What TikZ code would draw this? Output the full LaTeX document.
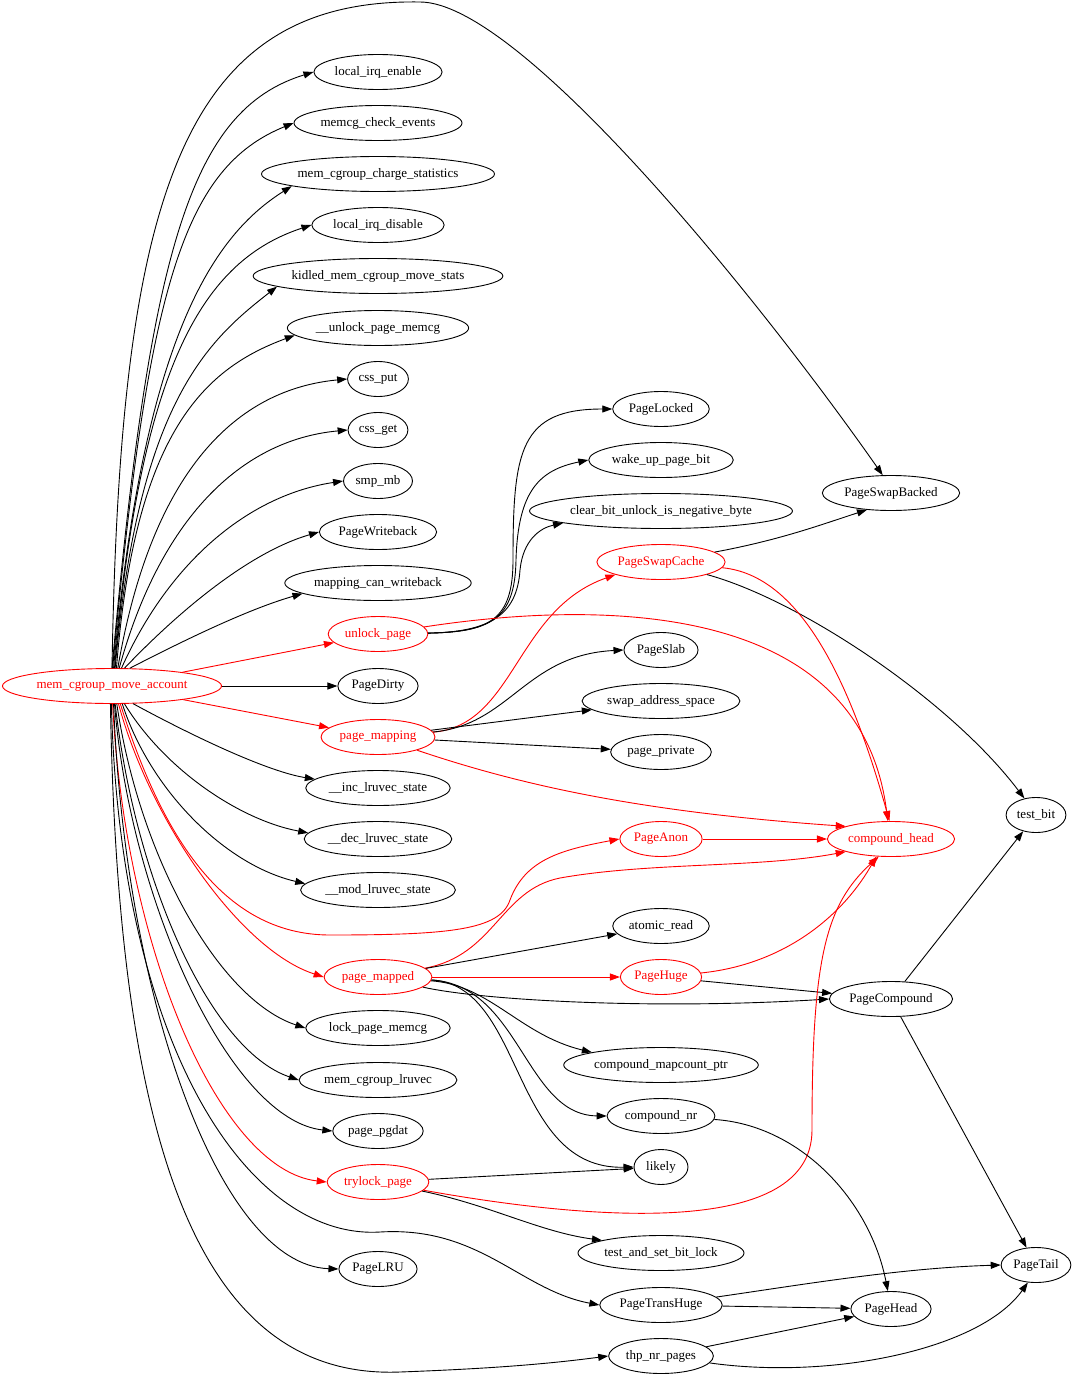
\documentclass[tikz,border=0pt]{standalone}
\usepackage{fontspec}
\setmainfont{Liberation Serif}
\usetikzlibrary{arrows.meta,shapes.geometric}

\begin{document}
\begin{tikzpicture}[x=1pt,y=1pt,>={Triangle[length=10pt,width=7pt]},
	fn/.style={draw,ellipse,line width=0.9pt,inner xsep=2pt,inner ysep=1pt,minimum height=35pt,
		minimum width=54pt,font=\fontsize{13}{15}\selectfont},
	hot/.style={fn,red},
	call/.style={->,line width=0.9pt},
	hotcall/.style={call,red}]

	% columns
	\def\ca{378}
	\def\cb{661}
	\def\cc{891}
	\def\cd{1036}

	\useasboundingbox (0,0) rectangle (1080,-1378);

	% root
	\node[hot] (mcma) at (112,-686) {mem\_cgroup\_move\_account};

	% first column
	\node[fn] (lie) at (\ca,-72) {local\_irq\_enable};
	\node[fn] (mce) at (\ca,-123) {memcg\_check\_events};
	\node[fn] (mcs) at (\ca,-174) {mem\_cgroup\_charge\_statistics};
	\node[fn] (lid) at (\ca,-225) {local\_irq\_disable};
	\node[fn] (kid) at (\ca,-276) {kidled\_mem\_cgroup\_move\_stats};
	\node[fn] (upm) at (\ca,-328) {\_\_unlock\_page\_memcg};
	\node[fn] (cput) at (\ca,-379) {css\_put};
	\node[fn] (cget) at (\ca,-430) {css\_get};
	\node[fn] (smb) at (\ca,-481) {smp\_mb};
	\node[fn] (pwb) at (\ca,-532) {PageWriteback};
	\node[fn] (mcw) at (\ca,-583) {mapping\_can\_writeback};
	\node[hot] (unl) at (\ca,-634) {unlock\_page};
	\node[fn] (pdirty) at (\ca,-686) {PageDirty};
	\node[hot] (pmap) at (\ca,-737) {page\_mapping};
	\node[fn] (inc) at (\ca,-788) {\_\_inc\_lruvec\_state};
	\node[fn] (dec) at (\ca,-839) {\_\_dec\_lruvec\_state};
	\node[fn] (mod) at (\ca,-890) {\_\_mod\_lruvec\_state};
	\node[hot] (pmd) at (\ca,-977) {page\_mapped};
	\node[fn] (lpm) at (\ca,-1028) {lock\_page\_memcg};
	\node[fn] (mcl) at (\ca,-1080) {mem\_cgroup\_lruvec};
	\node[fn] (ppg) at (\ca,-1131) {page\_pgdat};
	\node[hot] (tlp) at (\ca,-1182) {trylock\_page};
	\node[fn] (plru) at (\ca,-1269) {PageLRU};

	% second column
	\node[fn] (plock) at (\cb,-409) {PageLocked};
	\node[fn] (wupb) at (\cb,-460) {wake\_up\_page\_bit};
	\node[fn] (cbu) at (\cb,-511) {clear\_bit\_unlock\_is\_negative\_byte};
	\node[hot] (psc) at (\cb,-562) {PageSwapCache};
	\node[fn] (pslab) at (\cb,-650) {PageSlab};
	\node[fn] (sas) at (\cb,-701) {swap\_address\_space};
	\node[fn] (ppriv) at (\cb,-752) {page\_private};
	\node[hot] (panon) at (\cb,-839) {PageAnon};
	\node[fn] (aread) at (\cb,-926) {atomic\_read};
	\node[hot] (phuge) at (\cb,-977) {PageHuge};
	\node[fn] (cmp) at (\cb,-1065) {compound\_mapcount\_ptr};
	\node[fn] (cnr) at (\cb,-1116) {compound\_nr};
	\node[fn] (likely) at (\cb,-1167) {likely};
	\node[fn] (tsb) at (\cb,-1253) {test\_and\_set\_bit\_lock};
	\node[fn] (pth) at (\cb,-1305) {PageTransHuge};
	\node[fn] (thp) at (\cb,-1356) {thp\_nr\_pages};

	% third and fourth column
	\node[fn] (psb) at (\cc,-493) {PageSwapBacked};
	\node[hot] (chead) at (\cc,-839) {compound\_head};
	\node[fn] (pcomp) at (\cc,-999) {PageCompound};
	\node[fn] (phead) at (\cc,-1309) {PageHead};
	\node[fn] (tbit) at (\cd,-815) {test\_bit};
	\node[fn] (ptail) at (\cd,-1265) {PageTail};

	% root, upper fan
	\draw[call] (mcma.north) .. controls (120,-200) and (180,2) .. (420,-2)
		.. controls (520,-2) and (760,-300) .. (psb.115);
	\draw[call] (mcma.north) .. controls (150,-250) and (190,-110) .. (lie.west);
	\draw[call] (mcma.88) .. controls (148,-287) and (183,-168) .. (mce.west);
	\draw[call] (mcma.85) .. controls (144,-331) and (216,-234) .. (mcs.188);
	\draw[call] (mcma.82) .. controls (141,-360) and (205,-260) .. (lid.west);
	\draw[call] (mcma.80) .. controls (138,-400) and (210,-339) .. (kid.186);
	\draw[call] (mcma.76) .. controls (135,-430) and (206,-368) .. (upm.185);
	\draw[call] (mcma.72) .. controls (150,-480) and (230,-390) .. (cput.west);
	\draw[call] (mcma.68) .. controls (160,-520) and (240,-440) .. (cget.west);
	\draw[call] (mcma.62) .. controls (170,-560) and (250,-495) .. (smb.west);
	\draw[call] (mcma.55) .. controls (180,-610) and (250,-552) .. (pwb.west);
	\draw[call] (mcma.45) .. controls (175,-645) and (245,-610) .. (mcw.188);

	% root, straight ones
	\draw[hotcall] (mcma) -- (unl);
	\draw[call] (mcma) -- (pdirty);
	\draw[hotcall] (mcma) -- (pmap);

	% root, lower fan
	\draw[call] (mcma.320) .. controls (200,-740) and (270,-772) .. (inc.172);
	\draw[call] (mcma.305) .. controls (165,-770) and (240,-820) .. (dec.175);
	\draw[call] (mcma.300) .. controls (150,-790) and (225,-865) .. (mod.175);
	\draw[hotcall] (mcma.295) .. controls (160,-830) and (220,-935) .. (330,-935)
		.. controls (450,-935) and (500,-930) .. (510,-900)
		.. controls (525,-860) and (560,-850) .. (panon.west);
	\draw[hotcall] (mcma.290) .. controls (150,-820) and (240,-950) .. (pmd.west);
	\draw[call] (mcma.285) .. controls (140,-860) and (220,-1000) .. (lpm.west);
	\draw[call] (mcma.280) .. controls (135,-880) and (210,-1050) .. (mcl.west);
	\draw[call] (mcma.278) .. controls (130,-900) and (230,-1120) .. (ppg.west);
	\draw[hotcall] (mcma.272) .. controls (125,-950) and (220,-1170) .. (tlp.west);
	\draw[call] (mcma.275) .. controls (125,-1000) and (220,-1265) .. (plru.west);
	\draw[call] (mcma.268) .. controls (120,-1050) and (250,-1240) .. (380,-1232)
		.. controls (480,-1226) and (520,-1290) .. (pth.west);
	\draw[call] (mcma.265) .. controls (118,-1150) and (200,-1380) .. (400,-1372)
		.. controls (480,-1369) and (540,-1365) .. (thp.west);

	% unlock_page
	\draw[call] (unl) .. controls (490,-632) and (513,-620) .. (513,-560)
		.. controls (513,-450) and (520,-409) .. (plock.west);
	\draw[call] (unl) .. controls (490,-632) and (515,-620) .. (516,-560)
		.. controls (518,-490) and (540,-470) .. (wupb.west);
	\draw[call] (unl) .. controls (490,-632) and (517,-615) .. (520,-570)
		.. controls (523,-540) and (540,-528) .. (cbu.187);
	\draw[hotcall] (unl) .. controls (600,-600) and (860,-600) .. (chead.100);

	% page_mapping
	\draw[hotcall] (pmap) .. controls (515,-725) and (515,-610) .. (psc.south west);
	\draw[call] (pmap) .. controls (510,-725) and (525,-655) .. (pslab.west);
	\draw[call] (pmap) -- (sas);
	\draw[call] (pmap) -- (ppriv);
	\draw[hotcall] (pmap) .. controls (520,-785) and (640,-812) .. (chead.north west);

	% PageSwapCache, PageAnon
	\draw[call] (psc) .. controls (780,-540) and (820,-525) .. (psb.215);
	\draw[call] (psc) .. controls (800,-600) and (950,-700) .. (tbit.125);
	\draw[hotcall] (psc) .. controls (800,-575) and (850,-680) .. (chead.95);
	\draw[hotcall] (panon) -- (chead);

	% page_mapped
	\draw[hotcall] (pmd) .. controls (495,-955) and (500,-890) .. (560,-878)
		.. controls (650,-862) and (760,-868) .. (chead.south west);
	\draw[call] (pmd) -- (aread);
	\draw[hotcall] (pmd) -- (phuge);
	\draw[call] (pmd) .. controls (480,-1000) and (650,-1010) .. (pcomp.west);
	\draw[call] (pmd) .. controls (490,-985) and (520,-1035) .. (cmp.north west);
	\draw[call] (pmd) .. controls (520,-985) and (525,-1115) .. (cnr.west);
	\draw[call] (pmd) .. controls (525,-985) and (510,-1170) .. (likely.west);

	% PageHuge
	\draw[hotcall] (phuge) .. controls (780,-965) and (840,-920) .. (chead.230);
	\draw[call] (phuge) -- (pcomp);

	% trylock_page
	\draw[call] (tlp) -- (likely);
	\draw[hotcall] (tlp) .. controls (600,-1222) and (812,-1236) .. (812,-1130)
		.. controls (812,-960) and (825,-905) .. (chead.235);
	\draw[call] (tlp) .. controls (490,-1205) and (540,-1232) .. (tsb.north west);

	% the rest
	\draw[call] (pcomp) -- (tbit);
	\draw[call] (pcomp) -- (ptail);
	\draw[call] (cnr) .. controls (800,-1125) and (870,-1200) .. (phead.100);
	\draw[call] (pth) .. controls (800,-1285) and (900,-1268) .. (ptail.west);
	\draw[call] (pth) -- (phead);
	\draw[call] (thp) -- (phead);
	\draw[call] (thp) .. controls (830,-1380) and (980,-1350) .. (ptail.245);

\end{tikzpicture}
\end{document}
